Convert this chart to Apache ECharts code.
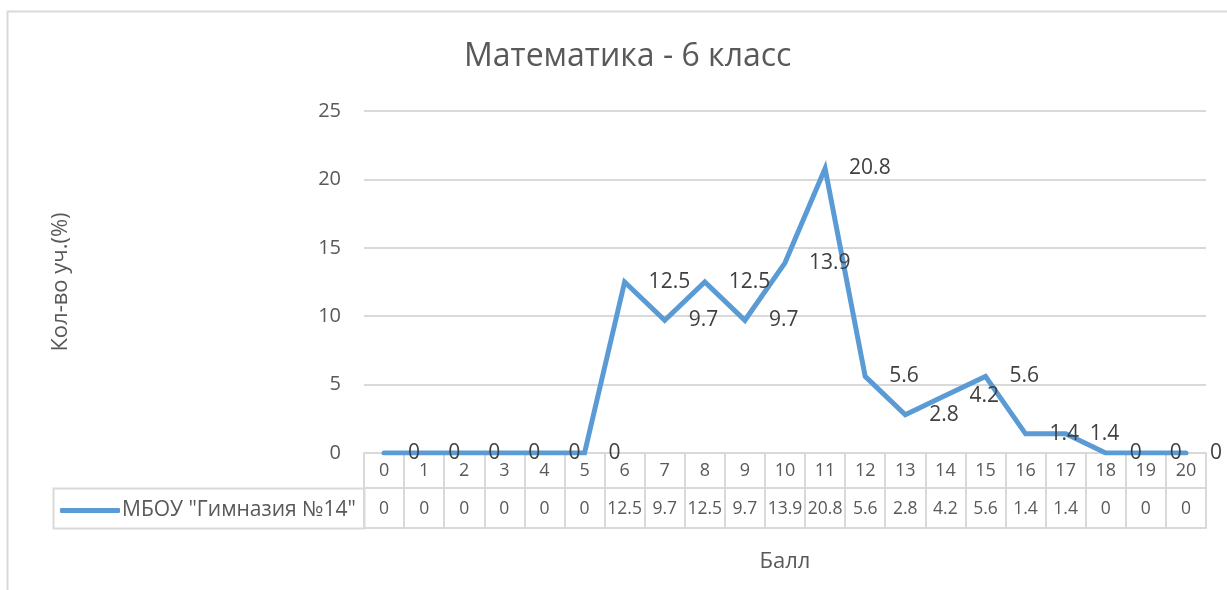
<!DOCTYPE html>
<html>
<head>
<meta charset="utf-8">
<script src="https://cdn.jsdelivr.net/npm/echarts@6/dist/echarts.min.js"></script>
<style>
html,body{margin:0;padding:0;background:#fff;}
#chart{width:1227px;height:590px;}
</style>
</head>
<body>
<div id="chart"></div>
<script>
const titleText = 'Математика - 6 класс';
const seriesName = 'МБОУ "Гимназия №14"';
const categories = ['0','1','2','3','4','5','6','7','8','9','10','11','12','13','14','15','16','17','18','19','20'];
const values = [0,0,0,0,0,0,12.5,9.7,12.5,9.7,13.9,20.8,5.6,2.8,4.2,5.6,1.4,1.4,0,0,0];
const yTicks = [0,5,10,15,20,25];

const FONT = '"Open Sans", "Noto Sans", sans-serif';
const TXT = '#595959';
const GRID = '#d9d9d9';
const LINE = '#5B9BD5';

const chart = echarts.init(document.getElementById('chart'));
chart.setOption({
  animation: false,
  backgroundColor: '#fff',
  textStyle: { fontFamily: FONT },
  title: {
    text: titleText,
    left: 459, top: 36,
    textStyle: { fontFamily: FONT, fontSize: 32, fontWeight: 'normal', color: TXT }
  },
  legend: {
    data: [seriesName],
    left: 55, top: 495,
    icon: 'roundRect',
    itemWidth: 60, itemHeight: 5,
    itemGap: 0,
    textStyle: { fontFamily: FONT, fontSize: 21, color: TXT, padding: [0,0,0,-3] }
  },
  grid: { left: 364, right: 21, top: 111, bottom: 137 },
  graphic: [
    { type: 'rect', silent: true, z: -1, shape: { x: 7.5, y: 11.5, width: 1300, height: 700 },
      style: { fill: 'none', stroke: GRID, lineWidth: 2 } },
    { type: 'rect', silent: true, shape: { x: 53.5, y: 488.5, width: 311, height: 40 },
      style: { fill: 'none', stroke: GRID, lineWidth: 2 } }
  ],
  xAxis: [
    {
      type: 'category', data: categories, boundaryGap: true,
      name: 'Балл', nameLocation: 'middle', nameGap: 98,
      nameTextStyle: { fontFamily: FONT, fontSize: 22, color: TXT },
      axisLine: { show: true, lineStyle: { color: GRID, width: 2 } },
      axisTick: { show: true, interval: 0, length: 75, lineStyle: { color: GRID, width: 2 } },
      splitLine: { show: false },
      axisLabel: {
        interval: 0, margin: 0, color: TXT,
        formatter: function (v, i) { return '{c|' + v + '}\n{v|' + values[i] + '}'; },
        rich: {
          c: { fontFamily: FONT, fontSize: 18, lineHeight: 35, color: TXT },
          v: { fontFamily: FONT, fontSize: 17.5, lineHeight: 42, color: TXT }
        }
      }
    },
    {
      type: 'category', data: categories, position: 'bottom', offset: 35,
      axisLine: { show: true, lineStyle: { color: GRID, width: 2 } },
      axisTick: { show: false }, axisLabel: { show: false }, splitLine: { show: false }
    },
    {
      type: 'category', data: categories, position: 'bottom', offset: 75,
      axisLine: { show: true, lineStyle: { color: GRID, width: 2 } },
      axisTick: { show: false }, axisLabel: { show: false }, splitLine: { show: false }
    }
  ],
  yAxis: {
    type: 'value', min: yTicks[0], max: yTicks[yTicks.length - 1], interval: 5,
    name: 'Кол-во уч.(%)', nameLocation: 'middle', nameGap: 292, nameRotate: 90,
    nameTextStyle: { fontFamily: FONT, fontSize: 22, color: TXT },
    axisLine: { show: false }, axisTick: { show: false },
    axisLabel: { margin: 23, fontFamily: FONT, fontSize: 20, color: TXT },
    splitLine: { show: true, lineStyle: { color: GRID, width: 2 } }
  },
  series: [{
    name: seriesName,
    type: 'line',
    data: values,
    showSymbol: true,
    symbol: 'circle',
    symbolSize: 2,
    itemStyle: { color: LINE },
    color: LINE,
    lineStyle: { color: LINE, width: 5, cap: 'round', join: 'miter' },
    label: {
      show: true, position: 'right', distance: 23,
      fontFamily: FONT, fontSize: 21, color: '#404040'
    },
    labelLayout: { hideOverlap: false },
    z: 3
  }]
});
</script>
</body>
</html>
